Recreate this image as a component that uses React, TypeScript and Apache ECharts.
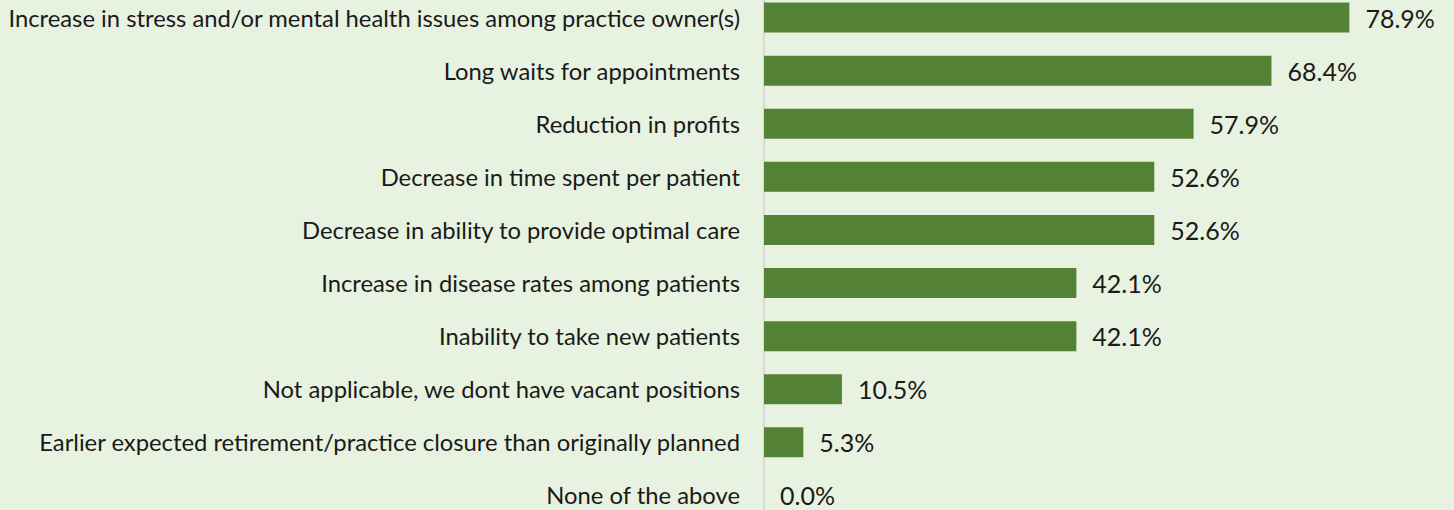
import React, { useEffect, useRef } from "react";
import * as echarts from "echarts";

const categories = [
  "Increase in stress and/or mental health issues among practice owner(s)",
  "Long waits for appointments",
  "Reduction in profits",
  "Decrease in time spent per patient",
  "Decrease in ability to provide optimal care",
  "Increase in disease rates among patients",
  "Inability to take new patients",
  "Not applicable, we dont have vacant positions",
  "Earlier expected retirement/practice closure than originally planned",
  "None of the above",
];
const values = [78.9, 68.4, 57.9, 52.6, 52.6, 42.1, 42.1, 10.5, 5.3, 0.0];

const FONT = "Lato, 'Open Sans', sans-serif";

export default function App() {
  const ref = useRef<HTMLDivElement>(null);
  useEffect(() => {
    if (!ref.current) return;
    const chart = echarts.init(ref.current, undefined, { renderer: "svg" });
    chart.setOption({
      animation: false,
      backgroundColor: "transparent",
      grid: { left: 764, right: 0, top: 0, bottom: 0, containLabel: false },
      xAxis: {
        type: "value",
        min: 0,
        max: 93,
        show: false,
      },
      yAxis: {
        type: "category",
        data: categories,
        inverse: true,
        axisLine: { show: true, lineStyle: { color: "#d9d9d9", width: 2 } },
        axisTick: { show: false },
        axisLabel: {
          margin: 24,
          color: "#1a1a1a",
          fontFamily: FONT,
          fontSize: 23.8,
        },
      },
      series: [
        {
          type: "bar",
          data: values,
          barWidth: 30,
          itemStyle: { color: "#548235" },
          label: {
            show: true,
            position: "right",
            distance: 16,
            formatter: (p: any) => p.value.toFixed(1) + "%",
            color: "#1a1a1a",
            fontFamily: FONT,
            fontSize: 25,
          },
        },
      ],
    });
    return () => chart.dispose();
  }, []);
  return (
    <div
      style={{
        position: "fixed",
        left: 0,
        top: 0,
        width: 1454,
        height: 510,
        overflow: "hidden",
        background: "#e8f2e0",
      }}
    >
      <div
        ref={ref}
        style={{ position: "absolute", left: 0, top: -9, width: 1454, height: 531 }}
      />
    </div>
  );
}
